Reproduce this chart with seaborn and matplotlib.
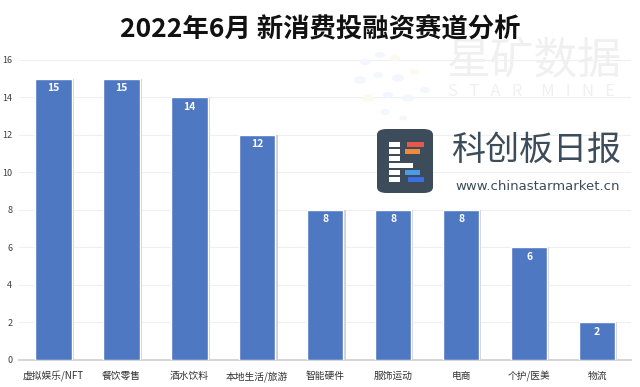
import matplotlib.pyplot as plt
import seaborn as sns
import pandas as pd
from matplotlib.patches import FancyBboxPatch, Rectangle

categories = ["虚拟娱乐/NFT", "餐饮零售", "酒水饮料", "本地生活/旅游", "智能硬件",
              "服饰运动", "电商", "个护/医美", "物流"]
counts = [15, 15, 14, 12, 8, 8, 8, 6, 2]
yticks = [0, 2, 4, 6, 8, 10, 12, 14, 16]

df = pd.DataFrame({"category": categories, "count": counts})

sns.set_theme(style="white")
plt.rcParams['font.family'] = ['Noto Sans CJK SC', 'DejaVu Sans']

W, H = 640, 387
fig = plt.figure(figsize=(6.4, 3.87), dpi=100)
ax = fig.add_axes([0.030, 0.070, 0.956, 0.775])


def px(x, y):
    # pixel position (from top-left) -> figure fraction
    return x / W, 1 - y / H


sns.barplot(data=df, x="category", y="count", color="#4f78c3", saturation=1,
            width=0.54, ax=ax, zorder=3)

# faint shadow on right edge of bars
for p in ax.patches:
    ax.add_patch(plt.Rectangle((p.get_x() + p.get_width(), 0), 0.03, p.get_height(),
                               color="#cfcfcf", zorder=2, lw=0))

for i, v in enumerate(counts):
    ax.text(i, v - 0.5, str(v), ha="center", va="center", color="white",
            fontsize=7.5, fontweight="bold", zorder=4)

ax.set_ylim(0, 16)
ax.set_xlim(-0.5, len(categories) - 0.5)
ax.set_yticks(yticks)
ax.yaxis.grid(True, color="#efefef", lw=0.8, zorder=0)
ax.set_axisbelow(True)
ax.set_xlabel("")
ax.set_ylabel("")
for s in ["top", "right", "left"]:
    ax.spines[s].set_visible(False)
ax.spines["bottom"].set_color("#d0d0d0")
ax.tick_params(axis="y", labelsize=6.5, colors="#404040", length=0, pad=5)
ax.tick_params(axis="x", labelsize=7, colors="#333333", length=0, pad=8)

fig.text(0.5, 0.922, "2022年6月 新消费投融资赛道分析", ha="center", va="center",
         fontsize=19, fontweight="bold", color="#111111")

# watermark: star mine
for cx, cy, r, c in [(365, 62, 5, "#f1f7fc"), (380, 55, 5, "#f1f7fc"), (395, 58, 5, "#fdf9ee"),
                     (360, 80, 6, "#f1f7fc"), (378, 75, 5, "#f3f8fc"), (398, 78, 6, "#f1f7fc"),
                     (415, 72, 5, "#fdf9ee"), (368, 98, 6, "#fdf9ee"), (388, 95, 5, "#f1f7fc"),
                     (408, 98, 6, "#f1f7fc"), (425, 90, 5, "#f1f7fc"), (385, 112, 5, "#f3f8fc"),
                     (403, 118, 4, "#f1f7fc")]:
    x0, y0 = px(cx, cy)
    fig.add_artist(plt.Circle((x0, y0), r / W, transform=fig.transFigure,
                              color=c, zorder=1, lw=0))
fig.text(*px(447, 60), "星矿数据", fontsize=31.5, color="#f0f0f0", va="center", zorder=1)
fig.text(*px(448, 91), "S   T   A   R     M   I   N   E", fontsize=12, color="#f0f0f0",
         va="center", zorder=1)

# watermark: logo
lx, ly = px(377, 193)
fig.add_artist(FancyBboxPatch((lx, ly), 56 / W, 64 / H,
                              boxstyle="round,pad=0,rounding_size=0.015",
                              transform=fig.transFigure, facecolor="#3d4c5a",
                              edgecolor="none", zorder=5))
rects = [(389, 142, 11, "white"), (389, 149, 11, "white"), (389, 156, 11, "white"),
         (389, 163, 24, "white"), (389, 170, 11, "white"), (389, 177, 11, "white"),
         (407, 142, 17, "#e8584a"), (405, 149, 15, "#f08a3c"),
         (405, 170, 15, "#4a9be8"), (408, 177, 16, "#3b6fe0")]
for x0, y0, w0, c in rects:
    fx, fy = px(x0, y0 + 5)
    fig.add_artist(Rectangle((fx, fy), w0 / W, 5 / H, transform=fig.transFigure,
                             facecolor=c, edgecolor="none", zorder=6))
fig.text(*px(451, 150), "科创板日报", fontsize=24.5, color="#3d4c5a", va="center", zorder=5)
fig.text(*px(455, 186), "www.chinastarmarket.cn", fontsize=9.5, color="#3d4c5a",
         va="center", family=["DejaVu Sans"], zorder=5)

fig.savefig("out.png", dpi=100)
